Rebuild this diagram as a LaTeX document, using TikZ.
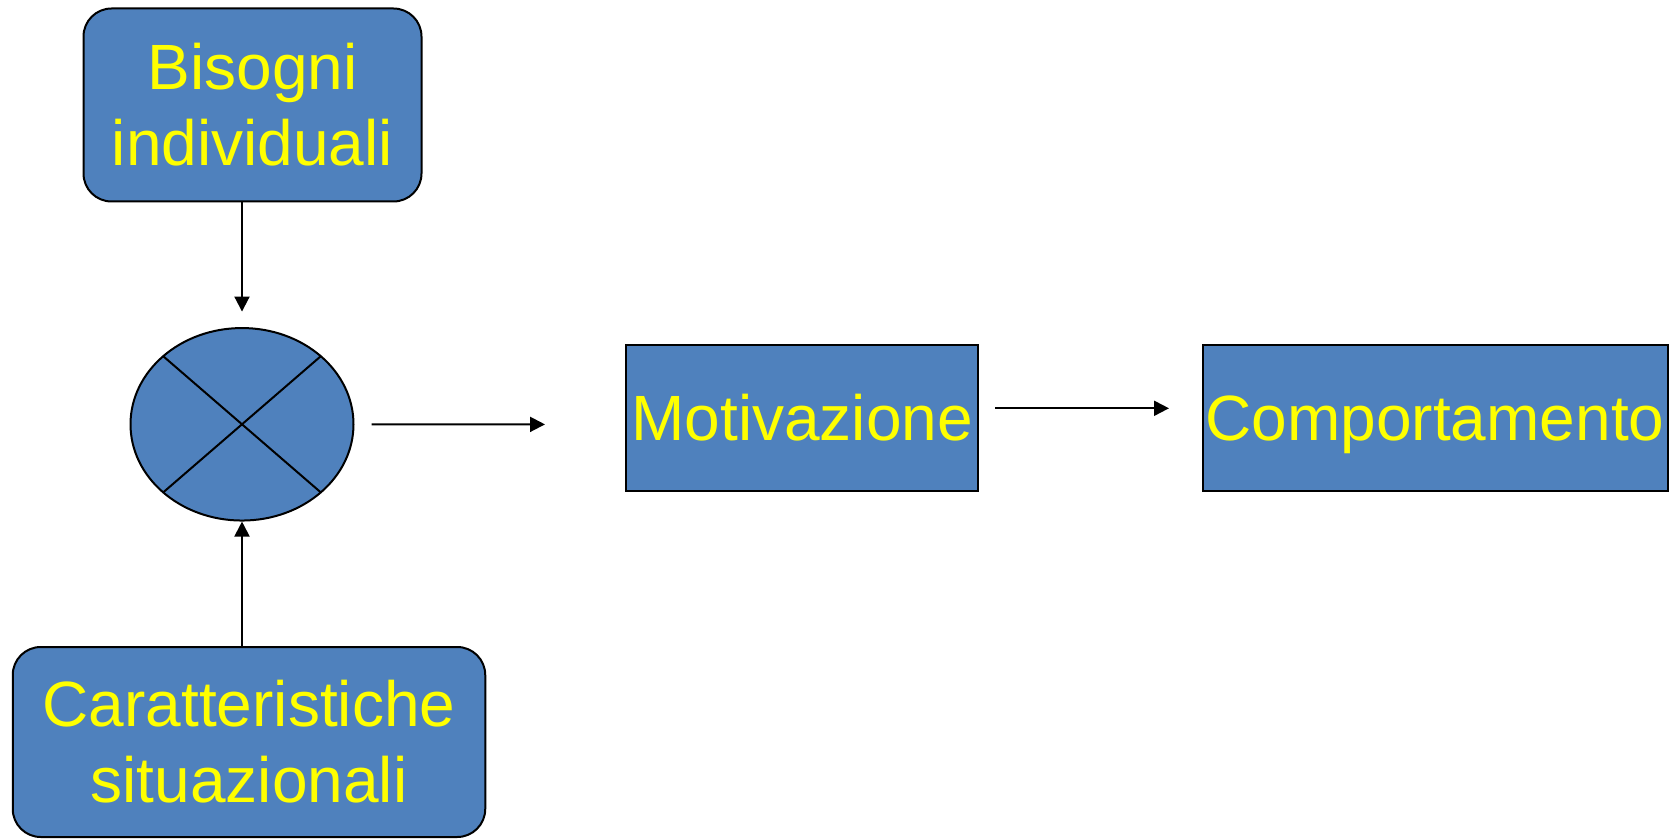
\documentclass[tikz,border=0pt]{standalone}
\usepackage{fontspec}
\setmainfont{Liberation Sans}
\usetikzlibrary{arrows.meta,calc,shapes.geometric}
\definecolor{boxblue}{HTML}{4F81BD}
\definecolor{txtyellow}{HTML}{FFFF00}
\begin{document}
\begin{tikzpicture}[x=0.5pt,y=-0.5pt,
  box/.style={draw=black,line width=1pt,fill=boxblue,text=txtyellow,
    font=\fontsize{32}{38}\selectfont,align=center,inner sep=0pt},
  rbox/.style={box,rounded corners=14pt},
  arr/.style={line width=1pt,-{Triangle[length=7.5pt,width=7.5pt]}},
  cross/.style={line width=1pt}]
\useasboundingbox (0,0) rectangle (1676,839);
\node[rbox,minimum width=169pt,minimum height=96.5pt] (bis) at (252.5,105) {Bisogni\\individuali};
\node[rbox,minimum width=236.25pt,minimum height=95pt] (car) at (249,742) {Caratteristiche\\situazionali};
\node[draw=black,line width=1pt,fill=boxblue,ellipse,inner sep=0pt,
  minimum width=111.5pt,minimum height=96.25pt] (ell) at (242,424.3) {};
\draw[cross] ($(ell.center)+(-78.8,-68.1)$) -- ($(ell.center)+(78.8,68.1)$);
\draw[cross] ($(ell.center)+(78.8,-68.1)$) -- ($(ell.center)+(-78.8,68.1)$);
\node[box,minimum width=175.8pt,minimum height=72.8pt] (mot) at (802.2,417.8) {Motivazione};
\node[box,minimum width=232.5pt,minimum height=72.8pt,text depth=0pt] (com) at (1435,417.8) {Comportamento};
\draw[arr] (bis.south -| ell.center) -- ($(ell.north)+(0,-15.5)$);
\draw[arr] (car.north -| ell.center) -- (ell.south);
\coordinate (a1s) at ($(ell.east)+(17,0)$);
\coordinate (a1e) at (545,424.4);
\draw[arr] (a1s) -- (a1e);
\coordinate (a2s) at (995,408.3);
\coordinate (a2e) at (1169,408.3);
\draw[arr] (a2s) -- (a2e);
\end{tikzpicture}
\end{document}
